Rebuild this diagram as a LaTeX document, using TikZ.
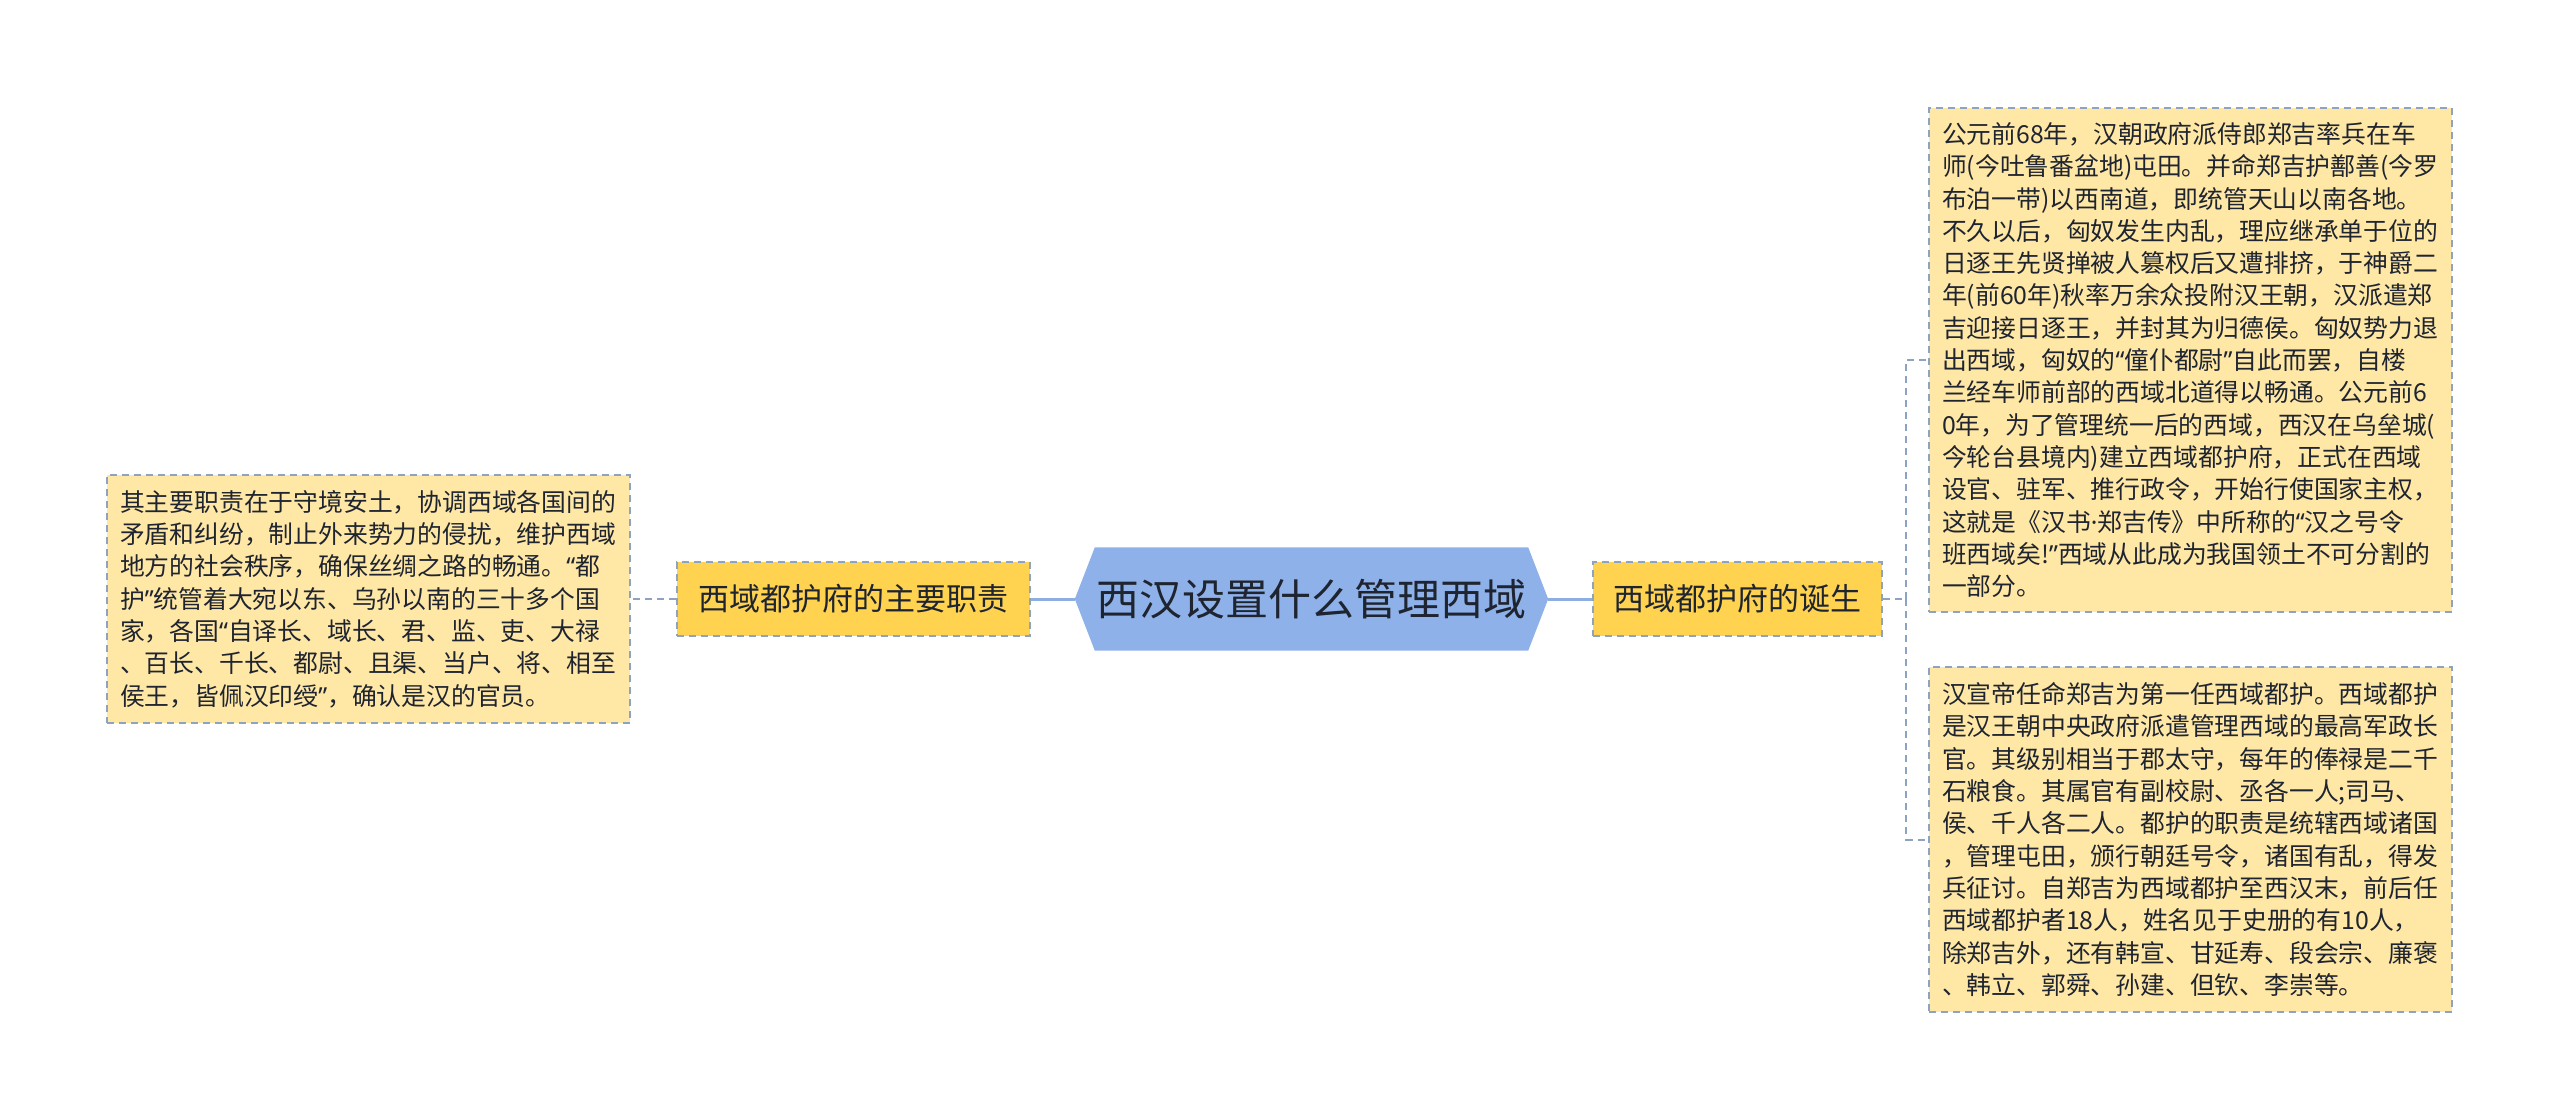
\documentclass[tikz,border=0pt]{standalone}
\usepackage{fontspec}
\newfontfamily\cjk{Noto Sans CJK SC}
\newfontfamily\latinfont{Noto Sans}
\newcommand\lat[1]{{\latinfont #1}}
\usetikzlibrary{backgrounds}
\definecolor{rootblue}{HTML}{8FB1E9}
\definecolor{linkblue}{HTML}{8EAEE0}
\definecolor{dashgray}{HTML}{8CA3C2}
\definecolor{branchyellow}{HTML}{FFD24F}
\definecolor{leafyellow}{HTML}{FFE7A5}
\definecolor{inkdark}{HTML}{1E2430}

\begin{document}
\begin{tikzpicture}[x=1pt,y=-1pt,
    rootbox/.style={minimum width=473pt,minimum height=103pt,inner sep=0pt,text=inkdark,font=\cjk\fontsize{43}{48}\selectfont},
    branchbox/.style={fill=branchyellow,draw=dashgray,dash pattern=on 7pt off 5pt,line width=2pt,minimum height=74pt,inner sep=0pt,text=inkdark,font=\cjk\fontsize{31}{36}\selectfont},
    leafbox/.style={fill=leafyellow,draw=dashgray,dash pattern=on 7pt off 5pt,line width=2pt,text width=497pt,inner xsep=13pt,inner ysep=0pt,align=left,text=inkdark,font=\cjk\fontsize{24.8}{32.3}\selectfont},
    solidlink/.style={draw=linkblue,line width=3pt},
    dashlink/.style={draw=dashgray,line width=2pt,dash pattern=on 7pt off 5pt}]
    \def\hx{20pt};
    \useasboundingbox (0,0) rectangle (2560,1119);
    \node[rootbox] at (1311.5,599) (root) {西汉设置什么管理西域};
    \begin{scope}[on background layer]
        \fill[rootblue] (root.west) -- ([xshift=\hx]root.north west) -- ([xshift=-\hx]root.north east)
            -- (root.east) -- ([xshift=-\hx]root.south east) -- ([xshift=\hx]root.south west) -- cycle;
    \end{scope}
    \node[branchbox,minimum width=353pt] at (853.5,599) (duty) {西域都护府的主要职责};
    \node[branchbox,minimum width=289pt] at (1737.5,599) (birth) {西域都护府的诞生};
    \node[leafbox,minimum height=248pt] at (368.5,599) (dutytext) {其主要职责在于守境安土，协调西域各国间的\\矛盾和纠纷，制止外来势力的侵扰，维护西域\\地方的社会秩序，确保丝绸之路的畅通。\lat{“}都\\护\lat{”}统管着大宛以东、乌孙以南的三十多个国\\家，各国\lat{“}自译长、域长、君、监、吏、大禄\\、百长、千长、都尉、且渠、当户、将、相至\\侯王，皆佩汉印绶\lat{”}，确认是汉的官员。};
    \node[leafbox,minimum height=504pt] at (2190.5,360) (birthtext) {公元前68年，汉朝政府派侍郎郑吉率兵在车\\师(今吐鲁番盆地)屯田。并命郑吉护鄯善(今罗\\布泊一带)以西南道，即统管天山以南各地。\\不久以后，匈奴发生内乱，理应继承单于位的\\日逐王先贤掸被人篡权后又遭排挤，于神爵二\\年(前60年)秋率万余众投附汉王朝，汉派遣郑\\吉迎接日逐王，并封其为归德侯。匈奴势力退\\出西域，匈奴的\lat{“}僮仆都尉\lat{”}自此而罢，自楼\\兰经车师前部的西域北道得以畅通。公元前6\\0年，为了管理统一后的西域，西汉在乌垒城(\\今轮台县境内)建立西域都护府，正式在西域\\设官、驻军、推行政令，开始行使国家主权，\\这就是《汉书\lat{·}郑吉传》中所称的\lat{“}汉之号令\\班西域矣!\lat{”}西域从此成为我国领土不可分割的\\一部分。};
    \node[leafbox,minimum height=345pt] at (2190.5,839.5) (firsttext) {汉宣帝任命郑吉为第一任西域都护。西域都护\\是汉王朝中央政府派遣管理西域的最高军政长\\官。其级别相当于郡太守，每年的俸禄是二千\\石粮食。其属官有副校尉、丞各一人;司马、\\侯、千人各二人。都护的职责是统辖西域诸国\\，管理屯田，颁行朝廷号令，诸国有乱，得发\\兵征讨。自郑吉为西域都护至西汉末，前后任\\西域都护者18人，姓名见于史册的有10人，\\除郑吉外，还有韩宣、甘延寿、段会宗、廉褒\\、韩立、郭舜、孙建、但钦、李崇等。};
    \coordinate (fork) at (1906,599);
    \draw[solidlink] (root.west) -- (duty.east);
    \draw[solidlink] (root.east) -- (birth.west);
    \draw[dashlink] (duty.west) -- (dutytext.east);
    \draw[dashlink] (birth.east) -- (fork);
    \draw[dashlink] (fork) |- (birthtext.west);
    \draw[dashlink] (fork) |- (firsttext.west);
\end{tikzpicture}
\end{document}
